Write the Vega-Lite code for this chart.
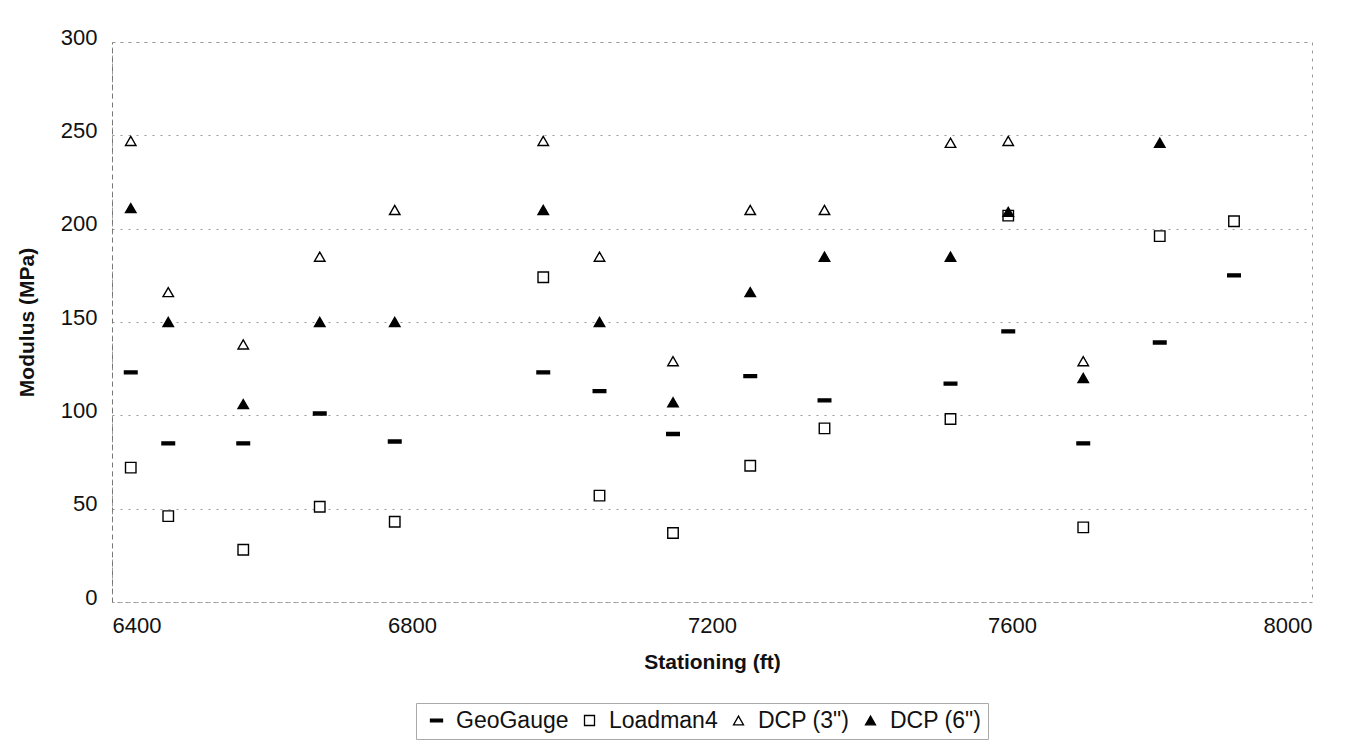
{
  "$schema": "https://vega.github.io/schema/vega-lite/v6.json",
  "width": 1200,
  "height": 560,
  "autosize": "none",
  "padding": {"left": 112, "top": 42, "right": 38, "bottom": 139},
  "background": "white",
  "config": {
    "font": "Liberation Sans",
    "view": {"stroke": "#999999", "strokeDash": [3, 5], "strokeWidth": 1},
    "axis": {
      "labelFont": "Liberation Sans",
      "labelFontSize": 22,
      "labelColor": "#111111",
      "titleFont": "Liberation Sans",
      "titleFontSize": 21,
      "titleFontWeight": "bold",
      "titleColor": "#111111"
    },
    "legend": {
      "labelFont": "Liberation Sans",
      "labelFontSize": 23,
      "labelColor": "#111111",
      "strokeColor": "#aaaaaa",
      "title": null,
      "orient": "none",
      "direction": "horizontal",
      "legendX": 304,
      "legendY": 661,
      "padding": 6,
      "symbolOffset": 3,
      "symbolSize": 100,
      "symbolStrokeWidth": 1.3,
      "labelOffset": 8,
      "columnPadding": 6,
      "gridAlign": "none"
    }
  },
  "data": {
    "values": [
      {"station": 6425, "method": "GeoGauge", "modulus": 123},
      {"station": 6425, "method": "Loadman4", "modulus": 72},
      {"station": 6425, "method": "DCP (3\")", "modulus": 247},
      {"station": 6425, "method": "DCP (6\")", "modulus": 211},
      {"station": 6475, "method": "GeoGauge", "modulus": 85},
      {"station": 6475, "method": "Loadman4", "modulus": 46},
      {"station": 6475, "method": "DCP (3\")", "modulus": 166},
      {"station": 6475, "method": "DCP (6\")", "modulus": 150},
      {"station": 6575, "method": "GeoGauge", "modulus": 85},
      {"station": 6575, "method": "Loadman4", "modulus": 28},
      {"station": 6575, "method": "DCP (3\")", "modulus": 138},
      {"station": 6575, "method": "DCP (6\")", "modulus": 106},
      {"station": 6677, "method": "GeoGauge", "modulus": 101},
      {"station": 6677, "method": "Loadman4", "modulus": 51},
      {"station": 6677, "method": "DCP (3\")", "modulus": 185},
      {"station": 6677, "method": "DCP (6\")", "modulus": 150},
      {"station": 6777, "method": "GeoGauge", "modulus": 86},
      {"station": 6777, "method": "Loadman4", "modulus": 43},
      {"station": 6777, "method": "DCP (3\")", "modulus": 210},
      {"station": 6777, "method": "DCP (6\")", "modulus": 150},
      {"station": 6975, "method": "GeoGauge", "modulus": 123},
      {"station": 6975, "method": "Loadman4", "modulus": 174},
      {"station": 6975, "method": "DCP (3\")", "modulus": 247},
      {"station": 6975, "method": "DCP (6\")", "modulus": 210},
      {"station": 7050, "method": "GeoGauge", "modulus": 113},
      {"station": 7050, "method": "Loadman4", "modulus": 57},
      {"station": 7050, "method": "DCP (3\")", "modulus": 185},
      {"station": 7050, "method": "DCP (6\")", "modulus": 150},
      {"station": 7148, "method": "GeoGauge", "modulus": 90},
      {"station": 7148, "method": "Loadman4", "modulus": 37},
      {"station": 7148, "method": "DCP (3\")", "modulus": 129},
      {"station": 7148, "method": "DCP (6\")", "modulus": 107},
      {"station": 7251, "method": "GeoGauge", "modulus": 121},
      {"station": 7251, "method": "Loadman4", "modulus": 73},
      {"station": 7251, "method": "DCP (3\")", "modulus": 210},
      {"station": 7251, "method": "DCP (6\")", "modulus": 166},
      {"station": 7350, "method": "GeoGauge", "modulus": 108},
      {"station": 7350, "method": "Loadman4", "modulus": 93},
      {"station": 7350, "method": "DCP (3\")", "modulus": 210},
      {"station": 7350, "method": "DCP (6\")", "modulus": 185},
      {"station": 7518, "method": "GeoGauge", "modulus": 117},
      {"station": 7518, "method": "Loadman4", "modulus": 98},
      {"station": 7518, "method": "DCP (3\")", "modulus": 246},
      {"station": 7518, "method": "DCP (6\")", "modulus": 185},
      {"station": 7595, "method": "GeoGauge", "modulus": 145},
      {"station": 7595, "method": "Loadman4", "modulus": 207},
      {"station": 7595, "method": "DCP (3\")", "modulus": 247},
      {"station": 7595, "method": "DCP (6\")", "modulus": 209},
      {"station": 7695, "method": "GeoGauge", "modulus": 85},
      {"station": 7695, "method": "Loadman4", "modulus": 40},
      {"station": 7695, "method": "DCP (3\")", "modulus": 129},
      {"station": 7695, "method": "DCP (6\")", "modulus": 120},
      {"station": 7797, "method": "GeoGauge", "modulus": 139},
      {"station": 7797, "method": "Loadman4", "modulus": 196},
      {"station": 7797, "method": "DCP (6\")", "modulus": 246},
      {"station": 7896, "method": "GeoGauge", "modulus": 175},
      {"station": 7896, "method": "Loadman4", "modulus": 204}
    ]
  },
  "mark": {
    "type": "point",
    "filled": false,
    "strokeWidth": 1.4,
    "size": 110,
    "opacity": 1
  },
  "encoding": {
    "x": {
      "field": "station",
      "type": "quantitative",
      "title": "Stationing (ft)",
      "scale": {"domain": [6400, 8000], "nice": false, "zero": false},
      "axis": {
        "values": [6400, 6800, 7200, 7600, 8000],
        "format": "d",
        "grid": false,
        "domain": false,
        "ticks": false,
        "labelPadding": 13,
        "titlePadding": 15
      }
    },
    "y": {
      "field": "modulus",
      "type": "quantitative",
      "title": "Modulus (MPa)",
      "scale": {"domain": [0, 300], "nice": false},
      "axis": {
        "values": [0, 50, 100, 150, 200, 250, 300],
        "grid": true,
        "gridColor": "#999999",
        "gridDash": [2, 6],
        "gridWidth": 1,
        "domain": true,
        "domainColor": "#777777",
        "domainDash": [5, 4],
        "ticks": false,
        "labelPadding": 15,
        "labelOffset": -5,
        "titlePadding": 23
      }
    },
    "shape": {
      "field": "method",
      "type": "nominal",
      "scale": {
        "domain": ["GeoGauge", "Loadman4", "DCP (3\")", "DCP (6\")"],
        "range": ["M-1.2,-0.28L1.2,-0.28L1.2,0.28L-1.2,0.28Z", "square", "triangle-up", "triangle-up"]
      }
    },
    "fill": {
      "field": "method",
      "type": "nominal",
      "scale": {
        "domain": ["GeoGauge", "Loadman4", "DCP (3\")", "DCP (6\")"],
        "range": ["#000000", "#ffffff", "#ffffff", "#000000"]
      }
    },
    "stroke": {
      "field": "method",
      "type": "nominal",
      "scale": {
        "domain": ["GeoGauge", "Loadman4", "DCP (3\")", "DCP (6\")"],
        "range": ["#000000", "#000000", "#000000", "#000000"]
      }
    }
  }
}
